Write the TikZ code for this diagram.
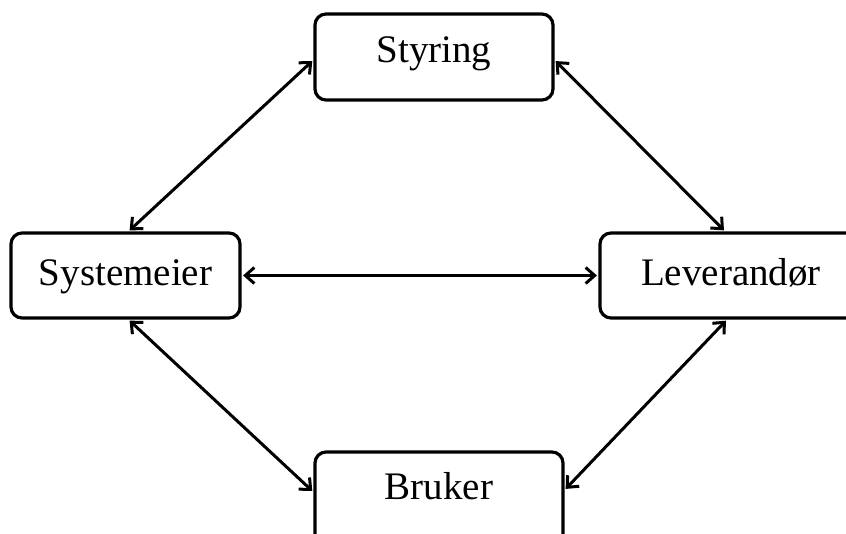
\documentclass[tikz,border=0pt]{standalone}
\usepackage{fontspec}
\setmainfont{Liberation Serif}
\usetikzlibrary{arrows.meta}
\begin{document}
\begin{tikzpicture}[x=1pt,y=-1pt,
  box/.style={draw=black, line width=3.2pt, rounded corners=11pt, fill=white,
    font=\fontsize{39}{42}\selectfont, inner sep=0pt, anchor=center,
    text height=28pt, text depth=9pt},
  link/.style={line width=3pt, {Straight Barb[length=9pt,width=16pt,line width=3pt]}-{Straight Barb[length=9pt,width=16pt,line width=3pt]}, shorten <=1.5pt, shorten >=1.5pt}]
\useasboundingbox (0,0) rectangle (846,533);
\clip (0,0) rectangle (846,533);
\node[box, minimum width=238pt, minimum height=86pt] (sty) at (434,57) {\raisebox{4pt}{Styring}};
\node[box, minimum width=229pt, minimum height=85pt] (sys) at (125.5,275.5) {Systemeier};
\node[box, minimum width=262pt, minimum height=85pt] (lev) at (731,275.5) {Leverandør};
\node[box, minimum width=248pt, minimum height=96pt] (bru) at (439,500) {\raisebox{10pt}{Bruker}};
\draw[link] ([yshift=-3pt]sty.west) -- ([xshift=3pt]sys.north);
\draw[link] ([yshift=-3pt]sty.east) -- ([xshift=-6pt]lev.north);
\draw[link] (sys.east) -- (lev.west);
\draw[link] ([xshift=3pt]sys.south) -- ([yshift=8pt]bru.west);
\draw[link] ([xshift=-4pt]lev.south) -- ([yshift=10pt]bru.east);
\end{tikzpicture}
\end{document}
